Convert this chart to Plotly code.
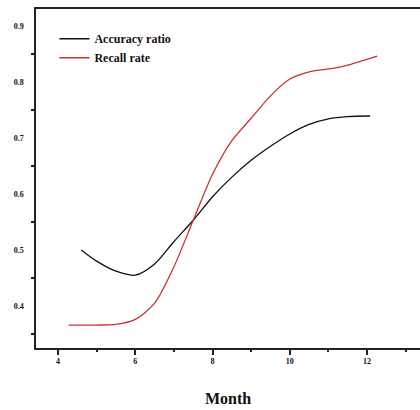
import plotly.graph_objects as go

acc_month = [4.6, 5.0, 5.5, 6.0, 6.5, 7.0, 7.5, 8.0, 8.5, 9.0, 9.5, 10.0, 10.5, 11.0, 11.5, 12.08]
acc_value = [0.500, 0.480, 0.462, 0.455, 0.475, 0.515, 0.553, 0.595, 0.630, 0.660, 0.685, 0.707, 0.724, 0.734, 0.738, 0.739]

rec_month = [4.28, 5.0, 5.5, 6.0, 6.5, 7.0, 7.5, 8.0, 8.5, 9.0, 9.5, 10.0, 10.5, 11.0, 11.5, 12.26]
rec_value = [0.366, 0.366, 0.367, 0.376, 0.405, 0.470, 0.553, 0.635, 0.695, 0.735, 0.775, 0.805, 0.818, 0.823, 0.830, 0.846]

x_ticks = [4, 6, 8, 10, 12]
y_ticks = [0.4, 0.5, 0.6, 0.7, 0.8, 0.9]

FONT = "Liberation Serif"

fig = go.Figure()
fig.add_trace(go.Scatter(x=acc_month, y=acc_value, mode="lines", name="<b>Accuracy ratio</b>",
                         line=dict(color="#111111", width=1.3, shape="spline", smoothing=0.8)))
fig.add_trace(go.Scatter(x=rec_month, y=rec_value, mode="lines", name="<b>Recall rate</b>",
                         line=dict(color="#c83232", width=1.3, shape="spline", smoothing=0.8)))

fig.update_layout(
    width=420, height=410,
    margin=dict(l=36, r=0, t=9, b=62),
    paper_bgcolor="white", plot_bgcolor="white",
    font=dict(family=FONT, color="#111111"),
    showlegend=True,
    legend=dict(x=0.048, y=0.955, xanchor="left", yanchor="top",
                font=dict(family=FONT, size=12, color="#111111"),
                bgcolor="rgba(0,0,0,0)", itemwidth=30, tracegroupgap=0),
    xaxis=dict(
        range=[3.43, 13.37], showgrid=False, zeroline=False,
        showline=True, linecolor="#222222", linewidth=1.5, mirror=True,
        tickvals=x_ticks, ticktext=[f"<b>{v}</b>" for v in x_ticks],
        ticks="outside", ticklen=5, tickcolor="#222222", tickwidth=1.5,
        tickfont=dict(family=FONT, size=8, color="#111111"),
        minor=dict(tickvals=[5, 7, 9, 11, 13], ticks="outside", ticklen=2, tickcolor="#222222", tickwidth=1.5),
        title=dict(text="<b>Month</b>", font=dict(family=FONT, size=16, color="#111111"), standoff=27),
    ),
    yaxis=dict(
        range=[0.325, 0.93], showgrid=False, zeroline=False,
        showline=True, linecolor="#222222", linewidth=1.5,
        tickvals=y_ticks, ticktext=[f"<b>{v}</b>" for v in y_ticks],
        ticks="", tickfont=dict(family=FONT, size=8, color="#111111"),
        ticklabelstandoff=9,
        minor=dict(tickvals=[0.35, 0.45, 0.55, 0.65, 0.75, 0.85], ticks="outside", ticklen=3, tickcolor="#222222", tickwidth=1.5),
    ),
)

fig.write_html("out.html")
